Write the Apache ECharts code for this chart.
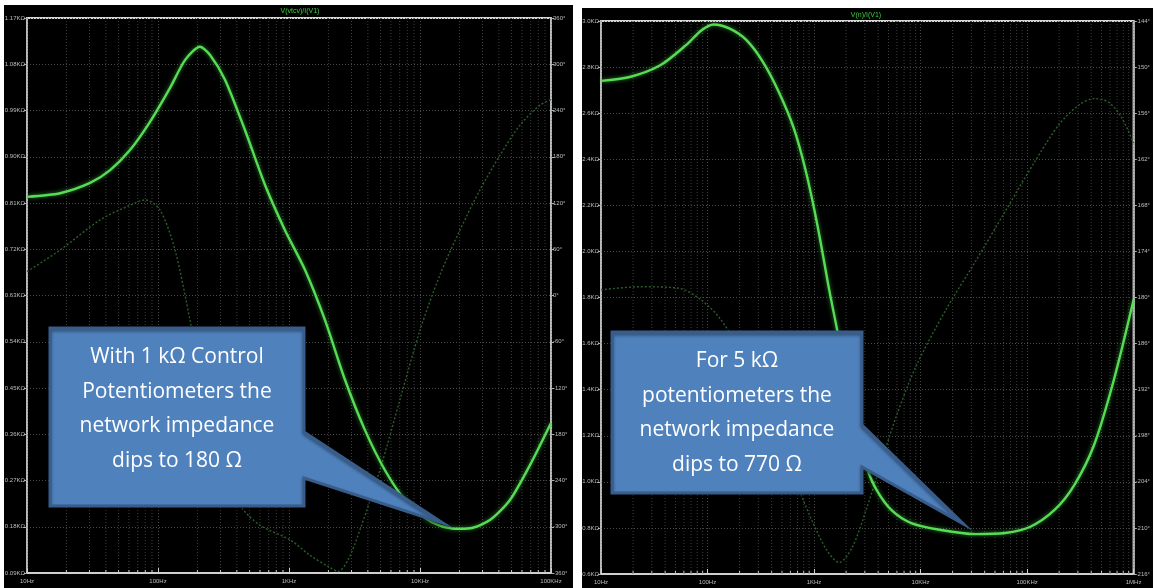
<!DOCTYPE html>
<html><head><meta charset="utf-8">
<script src="https://cdn.jsdelivr.net/npm/echarts@6/dist/echarts.min.js"></script>
<style>html,body{margin:0;padding:0;background:#fff}#c{width:1153px;height:588px}</style>
</head><body><div id="c"></div>
<script>
// ---- data (frequency Hz, value) ----
const xLabelsLeft = ['10Hz','100Hz','1KHz','10KHz','100KHz'];
const xLabelsRight = ['10Hz','100Hz','1KHz','10KHz','100KHz','1MHz'];
const titleLeft = 'V(vtcv)/I(V1)';
const titleRight = 'V(n)/I(V1)';
// left: impedance in ohms
const magLeft = [[10,822],[17.9,829],[30.3,849],[43.1,874],[61.1,913],[86.9,968],[123.6,1034],[160.8,1088],[209,1114],[249.5,1098],[324.6,1050],[461,952],[656,845],[932,757],[1324,680],[1883,582],[2675,466],[3802,368],[5403,290],[7679,232],[10914,197],[14220,182],[18500,176],[24100,177],[34200,193],[48600,232],[69100,300],[100000,382]];
// left: phase in degrees
const phaseLeft = [[10,31],[17.9,59],[36.1,98],[61.1,117],[79.6,124],[103.5,111],[134.8,59],[175.5,-32],[228.5,-135],[297.4,-213],[422.7,-272],[600.8,-298],[1018,-317],[1446,-337],[2056,-353],[2367,-358],[2820,-343],[3483,-304],[4950,-226],[7036,-135],[10000,-45],[14220,27],[20200,85],[28700,137],[40800,182],[58000,221],[82400,247],[100000,254]];
// right: impedance in ohms
const magRight = [[10,2740],[18.6,2757],[36,2808],[62.8,2895],[88,2960],[114,2985],[160,2968],[231,2918],[332,2822],[467,2692],[644,2536],[832,2353],[1075,2115],[1390,1832],[1720,1615],[2130,1370],[2637,1180],[3129,1060],[3874,964],[5338,877],[8179,821],[15530,791],[32800,773],[62250,778],[106200,804],[181100,878],[277500,986],[425600,1160],[652400,1442],[1000000,1790]];
// right: phase in degrees
const phaseRight = [[10,-179.0],[23,-178.6],[54,-178.8],[82.9,-180.1],[127,-182.5],[195,-186.6],[298,-192.0],[458,-198.5],[702,-204.6],[966,-209.2],[1331,-213.0],[1720,-214.5],[2271,-212.6],[3129,-207.4],[4310,-201.3],[5938,-195.4],[9105,-188.9],[17280,-181.6],[32800,-175.3],[62250,-168.8],[118200,-162.3],[201500,-157.4],[309000,-154.9],[425600,-154.1],[586400,-154.6],[774000,-156.6],[1000000,-159.9]];
const minorLeft = [];
const minorRight = [];
[10,100,1000,10000].forEach(d=>{for(let k=2;k<=9;k++) minorLeft.push([d*k]);});
[10,100,1000,10000,100000].forEach(d=>{for(let k=2;k<=9;k++) minorRight.push([d*k]);});
const calloutLeftLines = ['With 1 k\u03A9 Control','Potentiometers the','network impedance','dips to 180 \u03A9'];
const calloutRightLines = ['For 5 k\u03A9','potentiometers the','network impedance','dips to 770 \u03A9'];
const calloutLeftTip = [14980, 187];
const calloutRightTip = [25380, 817];

const chart = echarts.init(document.getElementById('c'));
const labelStyle = {color:'#bdbdbd', fontSize:6, fontFamily:'Liberation Sans'};
const gridLine = {show:true, lineStyle:{color:'#4a4a4a', type:[1,2], width:1}};

function xAxisCfg(gi, max, labels){
  return {type:'log', logBase:10, gridIndex:gi, min:10, max:max,
    axisLine:{show:true, onZero:false, lineStyle:{color:'#d0d0d0', width:2}},
    axisTick:{show:true, inside:true, length:5, lineStyle:{color:'#d0d0d0'}},
    axisLabel:Object.assign({margin:5, showMinLabel:true, showMaxLabel:true,
      formatter:v=>labels[Math.round(Math.log10(v))-1]}, labelStyle),
    splitLine:gridLine};
}
function yAxisCfg(gi, pos, min, max, interval, fmt, split){
  return {type:'value', gridIndex:gi, position:pos, min:min, max:max, interval:interval,
    axisLine:{show:true, onZero:false, lineStyle:{color:'#b0b0b0', width:1.5}},
    axisTick:{show:true, length:3, lineStyle:{color:'#b0b0b0'}},
    axisLabel:Object.assign({margin:2, formatter:fmt}, labelStyle),
    splitLine: split ? gridLine : {show:false}};
}
function minorSeries(xi, yi, data, ymin, ymax){
  return {type:'custom', xAxisIndex:xi, yAxisIndex:yi, data:data, silent:true, z:1,
    encode:{x:0},
    renderItem:function(params, api){
      const f = api.value(0);
      const top = api.coord([f, ymax]);
      const bot = api.coord([f, ymin]);
      return {type:'group', children:[
        {type:'line', shape:{x1:top[0],y1:top[1],x2:bot[0],y2:bot[1]}, style:{stroke:'#3e3e3e', lineWidth:1, lineDash:[1,2]}},
        {type:'line', shape:{x1:bot[0],y1:bot[1],x2:bot[0],y2:bot[1]-3}, style:{stroke:'#c8c8c8', lineWidth:1}}
      ]};
    }};
}
const magStyle = {color:'#58dc58', width:2.4, shadowColor:'rgba(80,230,80,0.6)', shadowBlur:4};
const phStyle = {color:'#2b5e2b', width:1.4, type:[2,2]};

chart.setOption({
  backgroundColor:'#000',
  animation:false,
  grid:[
    {left:27, right:602, top:18, bottom:15, show:true, borderColor:'#d8d8d8', borderWidth:2, backgroundColor:'transparent'},
    {left:601, right:13, top:21, bottom:14, show:true, borderColor:'#d8d8d8', borderWidth:2, backgroundColor:'transparent'}
  ],
  xAxis:[xAxisCfg(0, 100000, xLabelsLeft), xAxisCfg(1, 1000000, xLabelsRight)],
  yAxis:[
    yAxisCfg(0,'left',90,1170,90,v=>(v/1000).toFixed(2)+'K\u03A9',true),
    yAxisCfg(0,'right',-360,360,60,v=>v+'\u00B0',false),
    yAxisCfg(1,'left',600,3000,200,v=>(v/1000).toFixed(1)+'K\u03A9',true),
    yAxisCfg(1,'right',-216,-144,6,v=>v+'\u00B0',false)
  ],
  series:[
    minorSeries(0,0,minorLeft,90,1170),
    minorSeries(1,2,minorRight,600,3000),
    {type:'line', xAxisIndex:0, yAxisIndex:1, data:phaseLeft, showSymbol:false, smooth:0.3, lineStyle:phStyle, z:3},
    {type:'line', xAxisIndex:0, yAxisIndex:0, data:magLeft, showSymbol:false, smooth:0.25, lineStyle:magStyle, z:4},
    {type:'line', xAxisIndex:1, yAxisIndex:3, data:phaseRight, showSymbol:false, smooth:0.3, lineStyle:phStyle, z:3},
    {type:'line', xAxisIndex:1, yAxisIndex:2, data:magRight, showSymbol:false, smooth:0.3, lineStyle:magStyle, z:4}
  ]
});

function callout(box, tipData, finder, ya, yb, lines){
  const tip = chart.convertToPixel(finder, tipData);
  const [x0,y0,x1,y1] = box;
  const els = [{type:'polygon', z:100,
    shape:{points:[[x0,y0],[x1,y0],[x1,ya],tip,[x1,yb],[x1,y1],[x0,y1]]},
    style:{fill:'#4f81bd', stroke:'#385d8a', lineWidth:3, shadowBlur:3, shadowColor:'rgba(0,0,0,0.4)', shadowOffsetY:2}}];
  const cx = (x0+x1)/2;
  lines.forEach((t,i)=>{
    els.push({type:'text', z:101, style:{text:t, x:cx, y:y0+29+i*34.7, align:'center', verticalAlign:'middle',
      fill:'#ffffff', font:'21px "Open Sans"'}});
  });
  return els;
}
const gfx = [
  {type:'rect', z:90, shape:{x:0,y:0,width:1153,height:5}, style:{fill:'#fff'}},
  {type:'rect', z:90, shape:{x:0,y:0,width:4,height:588}, style:{fill:'#fff'}},
  {type:'rect', z:90, shape:{x:573,y:0,width:9,height:588}, style:{fill:'#fff'}},
  {type:'rect', z:90, shape:{x:582,y:0,width:571,height:8}, style:{fill:'#fff'}},
  {type:'text', z:95, style:{text:titleLeft, x:300, y:11, align:'center', verticalAlign:'middle', fill:'#3fcf3f', font:'7px "Liberation Sans"'}},
  {type:'text', z:95, style:{text:titleRight, x:866, y:15, align:'center', verticalAlign:'middle', fill:'#3fcf3f', font:'7px "Liberation Sans"'}}
].concat(
  callout([50,328,304,506], calloutLeftTip, {xAxisIndex:0, yAxisIndex:0}, 432, 478, calloutLeftLines),
  callout([612,332,862,493], calloutRightTip, {xAxisIndex:1, yAxisIndex:2}, 425, 467, calloutRightLines)
);
chart.setOption({graphic:gfx});
</script></body></html>
